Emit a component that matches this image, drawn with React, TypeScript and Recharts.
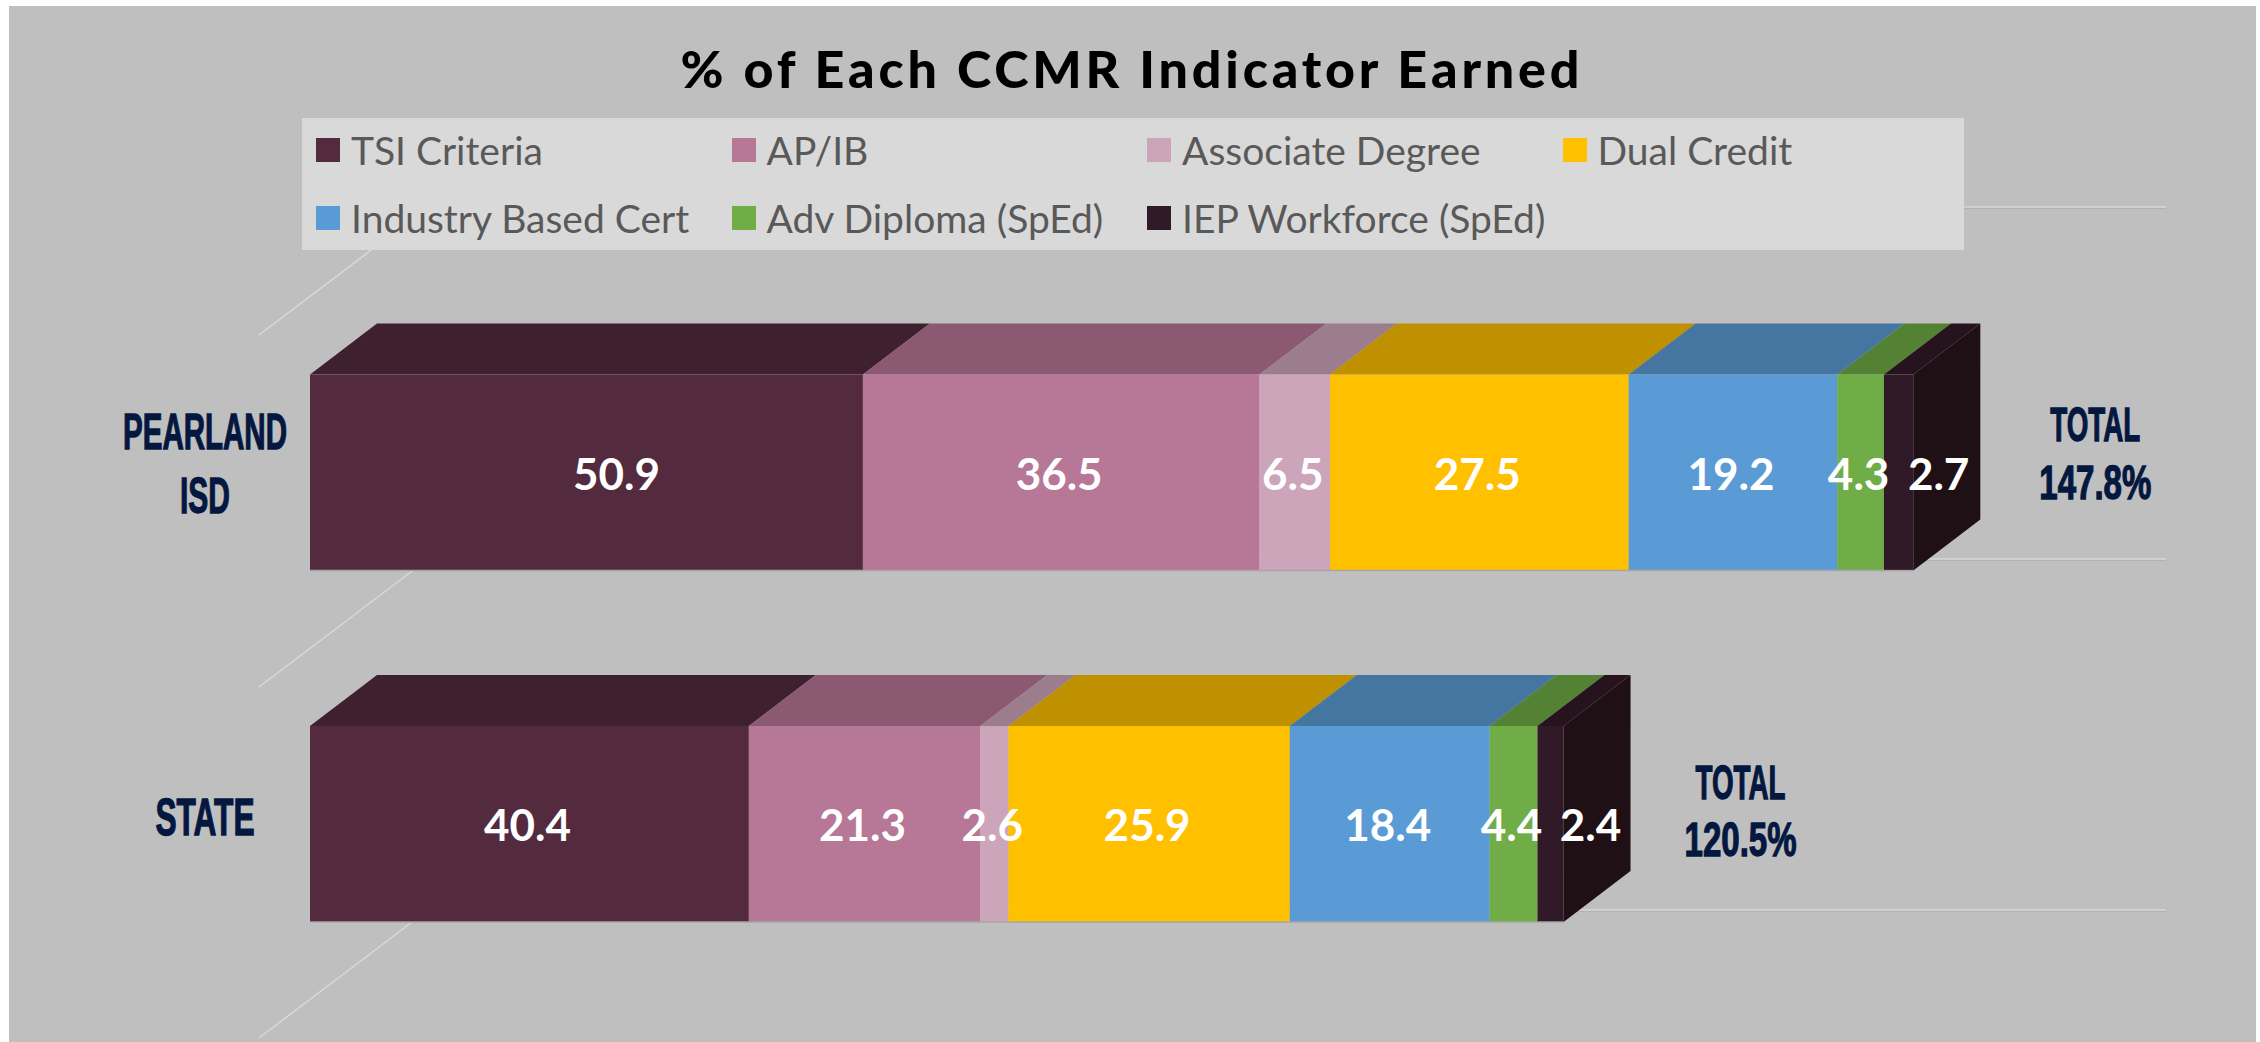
import React from "react";
import { BarChart, Bar, XAxis, YAxis, Legend, LabelList } from "recharts";

const categories = ["PEARLAND ISD", "STATE"];
const totals = ["147.8%", "120.5%"];

const seriesNames = [
  "TSI Criteria",
  "AP/IB",
  "Associate Degree",
  "Dual Credit",
  "Industry Based Cert",
  "Adv Diploma (SpEd)",
  "IEP Workforce (SpEd)",
];
const tsiCriteria = [50.9, 40.4];
const apIb = [36.5, 21.3];
const associateDegree = [6.5, 2.6];
const dualCredit = [27.5, 25.9];
const industryCert = [19.2, 18.4];
const advDiploma = [4.3, 4.4];
const iepWorkforce = [2.7, 2.4];
const seriesValues = [tsiCriteria, apIb, associateDegree, dualCredit, industryCert, advDiploma, iepWorkforce];

const frontColors = ["#542B3E", "#B77796", "#CCA5BA", "#FFC000", "#5B9BD5", "#70AD47", "#311A27"];
const topColors = ["#3F202F", "#8B5A72", "#9C7D8D", "#BF9000", "#4575A1", "#548235", "#27131D"];
const SIDE_COLOR = "#1F1015";

const rows = categories.map((name, i) => {
  const row: Record<string, string | number> = { name };
  seriesNames.forEach((s, j) => {
    row[s] = seriesValues[j][i];
  });
  return row;
});

// fake 3D depth, Excel style
const DEPTH_X = 67;
const DEPTH_Y = 51;
const NAVY = "#04173F";
const LABEL_FONT = "Lato, 'Open Sans', sans-serif";
const NARROW_FONT = "'Liberation Sans Narrow', 'Liberation Sans', sans-serif";

// floor lines of the 3D box, front y and back y of each band
const floorLines = [
  [335, 207],
  [687, 559],
  [1038, 910],
];

const BoxShape = (props: any) => {
  const { x, y, width, height, seriesIndex } = props;
  const isLast = seriesIndex === seriesNames.length - 1;
  const top = `${x},${y} ${x + DEPTH_X},${y - DEPTH_Y} ${x + width + DEPTH_X},${y - DEPTH_Y} ${x + width},${y}`;
  const side = `${x + width},${y} ${x + width + DEPTH_X},${y - DEPTH_Y} ${x + width + DEPTH_X},${y + height - DEPTH_Y} ${x + width},${y + height}`;
  return (
    <g>
      <polygon points={top} fill={topColors[seriesIndex]} />
      {isLast && <polygon points={side} fill={SIDE_COLOR} />}
      <rect x={x} y={y} width={width} height={height} fill={frontColors[seriesIndex]} />
      <line x1={x} x2={x + width} y1={y + height} y2={y + height} stroke="#A6A6A6" strokeWidth={1.5} />
    </g>
  );
};

const NarrowText = ({ x, y, width, cap, children }: any) => (
  <text
    x={x}
    y={y + cap / 2}
    textAnchor="middle"
    fontFamily={NARROW_FONT}
    fontWeight={700}
    fontSize={cap / 0.72}
    fill={NAVY}
    stroke={NAVY}
    strokeWidth={1.3}
    textLength={width}
    lengthAdjust="spacingAndGlyphs"
  >
    {children}
  </text>
);

const CategoryTick = ({ y, payload }: any) => {
  const CENTER_X = 205;
  if (payload.value === "STATE") {
    return (
      <NarrowText x={CENTER_X} y={y - 7} width={99} cap={37}>
        STATE
      </NarrowText>
    );
  }
  return (
    <g>
      <NarrowText x={CENTER_X} y={y - 41} width={164} cap={36}>
        PEARLAND
      </NarrowText>
      <NarrowText x={CENTER_X} y={y + 23} width={50} cap={36}>
        ISD
      </NarrowText>
    </g>
  );
};

// labels the source chart had dragged off centre
const labelShift = (seriesIndex: number, rowIndex: number) => {
  if (seriesIndex === seriesNames.length - 1) return 40;
  if (seriesIndex === 0 && rowIndex === 0) return 30;
  return -2;
};

const totalGap = [182, 177];
const totalLines = [
  [-48.5, 9],
  [-42, 15],
];

const ValueLabel = (props: any) => {
  const { x, y, width, height, value, index, seriesIndex } = props;
  const cx = x + width / 2 + labelShift(seriesIndex, index);
  const cy = y + height / 2;
  return (
    <g>
      <text
        x={cx}
        y={cy + 17}
        textAnchor="middle"
        fontFamily={LABEL_FONT}
        fontWeight={700}
        fontSize={44}
        fill="#FFFFFF"
      >
        {Number(value).toFixed(1)}
      </text>
      {seriesIndex === seriesNames.length - 1 && (
        <g>
          <NarrowText x={x + width + totalGap[index]} y={cy + totalLines[index][0]} width={90} cap={34}>
            TOTAL
          </NarrowText>
          <NarrowText x={x + width + totalGap[index]} y={cy + totalLines[index][1]} width={112} cap={34}>
            {totals[index]}
          </NarrowText>
        </g>
      )}
    </g>
  );
};

const LegendBox = ({ payload }: any) => (
  <div
    style={{
      width: "100%",
      height: "100%",
      background: "#D9D9D9",
      display: "grid",
      gridTemplateColumns: "repeat(4, 415.5px)",
      gridAutoRows: "67.5px",
      paddingLeft: 14,
      boxSizing: "border-box",
      alignContent: "center",
      fontFamily: LABEL_FONT,
      fontSize: 39,
      color: "#595959",
    }}
  >
    {(payload || []).map((item: any) => (
      <div key={item.value} style={{ display: "flex", alignItems: "center", whiteSpace: "nowrap" }}>
        <span style={{ width: 24, height: 24, background: item.color, marginRight: 11, flexShrink: 0 }} />
        <span>{item.value}</span>
      </div>
    ))}
  </div>
);

export default function App() {
  return (
    <div style={{ position: "absolute", left: 0, top: 0, width: 2260, height: 1042, background: "#FFFFFF" }}>
      <BarChart
        width={2260}
        height={1042}
        layout="vertical"
        data={rows}
        barSize={196}
        margin={{ top: 296.6, right: 212, bottom: 42.6, left: 9 }}
      >
        <rect x={9} y={6} width={2247} height={1036} fill="#BFBFBF" />
        <text
          x={1130}
          y={88}
          textAnchor="middle"
          fontFamily={LABEL_FONT}
          fontWeight={900}
          fontSize={52}
          fill="#000000"
          textLength={899}
        >
          % of Each CCMR Indicator Earned
        </text>
        {floorLines.map(([front, back]) => (
          <g key={front}>
            <line x1={259} y1={front} x2={428} y2={back} stroke="#D9D9D9" strokeWidth={1.5} />
            <line x1={428} y1={back + 1} x2={2166} y2={back + 1} stroke="#A6A6A6" strokeWidth={1} />
            <line x1={428} y1={back} x2={2166} y2={back} stroke="#D9D9D9" strokeWidth={1.5} />
          </g>
        ))}
        <XAxis type="number" domain={[0, 160]} hide />
        <YAxis
          type="category"
          dataKey="name"
          width={301}
          axisLine={false}
          tickLine={false}
          interval={0}
          tick={<CategoryTick />}
        />
        <Legend
          layout="horizontal"
          verticalAlign="middle"
          align="center"
          itemSorter={null}
          content={<LegendBox />}
          wrapperStyle={{ position: "absolute", left: 302, top: 118, width: 1662, height: 132, margin: 0 }}
        />
        {seriesNames.map((s, i) => (
          <Bar
            key={s}
            dataKey={s}
            name={s}
            stackId="total"
            fill={frontColors[i]}
            isAnimationActive={false}
            shape={(p: any) => <BoxShape {...p} seriesIndex={i} />}
          >
            <LabelList dataKey={s} content={(p: any) => <ValueLabel {...p} seriesIndex={i} />} />
          </Bar>
        ))}
      </BarChart>
    </div>
  );
}
